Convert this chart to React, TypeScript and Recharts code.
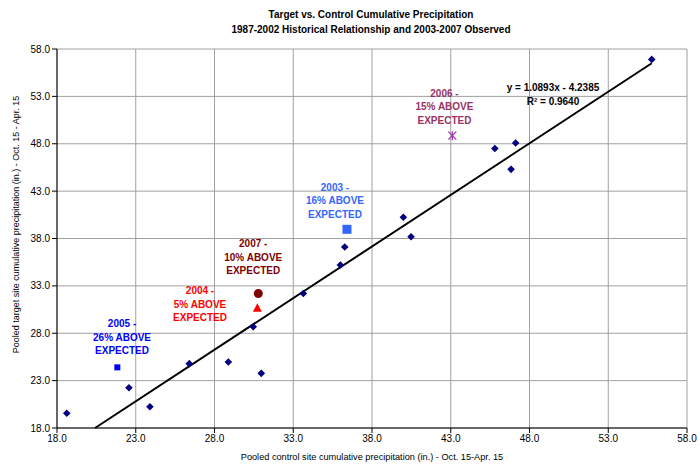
import React from 'react';
import { ScatterChart, Scatter, XAxis, YAxis, CartesianGrid, ReferenceLine, Label } from 'recharts';

// Historical 1987-2002 (control x, target y)
const histX = [18.62, 22.57, 23.9, 26.4, 28.88, 30.46, 30.97, 33.64, 35.99, 36.27, 39.99, 40.48, 45.8, 46.83, 47.12, 55.76];
const histY = [19.55, 22.25, 20.25, 24.79, 24.97, 28.69, 23.77, 32.2, 35.2, 37.1, 40.24, 38.19, 47.5, 45.3, 48.08, 56.9];

// Observed 2003-2007
const obsYears = ['2003', '2004', '2005', '2006', '2007'];
const obsX = [36.41, 30.72, 21.83, 43.1, 30.78];
const obsY = [38.97, 30.63, 24.4, 48.85, 32.2];
const obsNotes = ['16% ABOVE', '5% ABOVE', '26% ABOVE', '15% ABOVE', '10% ABOVE'];
const noteX = [35.65, 27.08, 22.13, 42.6, 30.46];
const noteY = [43.4, 32.46, 28.98, 53.33, 37.42];

// Trendline endpoints (y = 1.0893x - 4.2385)
const trendX = [20.415, 55.76];
const trendY = [18.0, 56.5];
const eqText = ['y = 1.0893x - 4.2385', 'R² = 0.9640'];
const eqX = [49.49];
const eqY = [53.92];

const tickVals = [18, 23, 28, 33, 38, 43, 48, 53, 58];

const titleLines = ['Target vs. Control Cumulative Precipitation', '1987-2002 Historical Relationship and 2003-2007 Observed'];
const xTitle = 'Pooled control site cumulative precipitation (in.) - Oct. 15-Apr. 15';
const yTitle = 'Pooled target site cumulative precipitation (in.) - Oct. 15 - Apr. 15';

const markerColors = ['#3366FF', '#FF0000', '#0000FF', '#9933AA', '#800000'];
const noteColors = ['#3366FF', '#FF0000', '#0000FF', '#993366', '#800000'];
const markerKinds = ['bigSquare', 'triangle', 'square', 'star', 'circle'];

const FONT = '"Liberation Sans", Arial, sans-serif';

const histData = histX.map((x, i) => ({ x, y: histY[i] }));
const obsData = obsYears.map((yr, i) => ({ x: obsX[i], y: obsY[i], kind: markerKinds[i], color: markerColors[i] }));
const noteData = obsYears.map((yr, i) => ({
  x: noteX[i],
  y: noteY[i],
  lines: [yr + ' -', obsNotes[i], 'EXPECTED'],
  color: noteColors[i],
}));
const eqData = [{ x: eqX[0], y: eqY[0], lines: eqText, color: '#000000' }];

const Diamond = (p: any) => {
  const { cx, cy } = p;
  if (cx == null || cy == null) return null;
  const r = 3.8;
  return <polygon points={`${cx},${cy - r} ${cx + r},${cy} ${cx},${cy + r} ${cx - r},${cy}`} fill="#000080" />;
};

const ObsShape = (p: any) => {
  const { cx, cy, payload } = p;
  if (cx == null || cy == null) return null;
  const c = payload.color;
  switch (payload.kind) {
    case 'bigSquare':
      return <rect x={cx - 4.5} y={cy - 4.5} width={9} height={9} fill={c} />;
    case 'square':
      return <rect x={cx - 3} y={cy - 3} width={6} height={6} fill={c} />;
    case 'triangle':
      return <polygon points={`${cx},${cy - 5} ${cx + 4.5},${cy + 3.5} ${cx - 4.5},${cy + 3.5}`} fill={c} />;
    case 'circle':
      return <circle cx={cx} cy={cy} r={4.5} fill={c} />;
    case 'star':
      return (
        <g stroke={c} strokeWidth={1.2}>
          <line x1={cx - 4} y1={cy - 4} x2={cx + 4} y2={cy + 4} />
          <line x1={cx - 4} y1={cy + 4} x2={cx + 4} y2={cy - 4} />
          <line x1={cx} y1={cy - 4.5} x2={cx} y2={cy + 4.5} />
        </g>
      );
    default:
      return null;
  }
};

const NoteShape = (p: any) => {
  const { cx, cy, payload } = p;
  if (cx == null || cy == null) return null;
  return (
    <text textAnchor="middle" fontWeight="bold" fontSize={10} fill={payload.color} fontFamily={FONT}>
      {payload.lines.map((l: string, i: number) => (
        <tspan key={i} x={cx} y={cy + 3.5 + i * 13.5}>
          {l}
        </tspan>
      ))}
    </text>
  );
};

const fmt = (v: number) => v.toFixed(1);

export default function App() {
  return (
    <div style={{ position: 'absolute', left: 0, top: 0, width: 700, height: 468, background: '#fff', fontFamily: FONT }}>
      <div
        style={{
          position: 'absolute',
          left: 42,
          width: 658,
          top: 7,
          textAlign: 'center',
          fontSize: 10,
          fontWeight: 'bold',
          lineHeight: '15px',
          color: '#000',
        }}
      >
        {titleLines.map((t, i) => (
          <div key={i}>{t}</div>
        ))}
      </div>
      <div style={{ position: 'absolute', left: 0, top: 0 }}>
        <ScatterChart width={700} height={468} margin={{ top: 49, right: 13, bottom: 0, left: 0 }}>
          <CartesianGrid stroke="#a0a0a0" strokeWidth={1} />
          <XAxis
            type="number"
            dataKey="x"
            domain={[18, 58]}
            ticks={tickVals}
            interval={0}
            allowDataOverflow
            tickFormatter={fmt}
            height={40}
            axisLine={{ stroke: '#000' }}
            tickLine={{ stroke: '#000' }}
            tickSize={5}
            tick={{ fontSize: 10, fill: '#000', fontFamily: FONT }}
          >
            <Label
              content={(props: any) => {
                const vb = props.viewBox || {};
                return (
                  <text
                    x={vb.x + vb.width / 2}
                    y={vb.y + 32}
                    textAnchor="middle"
                    fontSize={9.2}
                    fill="#000"
                    fontFamily={FONT}
                  >
                    {xTitle}
                  </text>
                );
              }}
            />
          </XAxis>
          <YAxis
            type="number"
            dataKey="y"
            domain={[18, 58]}
            ticks={tickVals}
            interval={0}
            allowDataOverflow
            tickFormatter={fmt}
            width={57}
            axisLine={{ stroke: '#000' }}
            tickLine={{ stroke: '#000' }}
            tickSize={5}
            tick={{ fontSize: 10, fill: '#000', fontFamily: FONT }}
          >
            <Label
              content={(props: any) => {
                const vb = props.viewBox || {};
                const x = vb.x + 16;
                const y = vb.y + vb.height / 2 - 14;
                return (
                  <text
                    x={x}
                    y={y}
                    transform={`rotate(-90 ${x} ${y})`}
                    textAnchor="middle"
                    dominantBaseline="central"
                    fontSize={9}
                    fill="#000"
                    fontFamily={FONT}
                  >
                    {yTitle}
                  </text>
                );
              }}
            />
          </YAxis>
          <ReferenceLine
            segment={[
              { x: trendX[0], y: trendY[0] },
              { x: trendX[1], y: trendY[1] },
            ]}
            stroke="#000"
            strokeWidth={2}
            ifOverflow="visible"
          />
          <Scatter data={histData} shape={Diamond} isAnimationActive={false} />
          <Scatter data={obsData} shape={ObsShape} isAnimationActive={false} />
          <Scatter data={noteData} shape={NoteShape} isAnimationActive={false} />
          <Scatter data={eqData} shape={NoteShape} isAnimationActive={false} />
        </ScatterChart>
      </div>
    </div>
  );
}
